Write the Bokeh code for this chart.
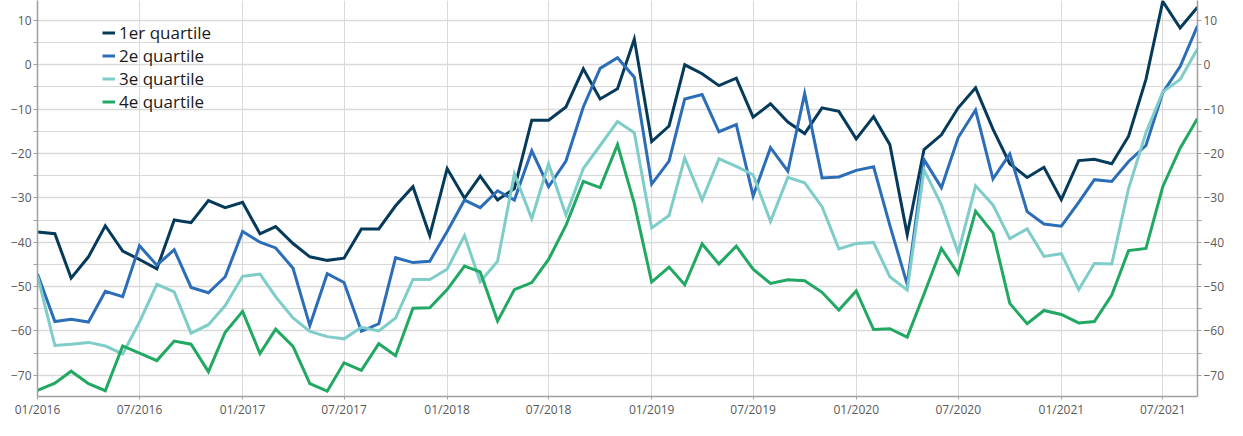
import pandas as pd
from bokeh.plotting import figure
from bokeh.models import (LinearAxis, FixedTicker, MonthsTicker, DatetimeTickFormatter,
                          Legend, LegendItem, Range1d)
from bokeh.embed import file_html
from bokeh.resources import INLINE

# ---------------- data ----------------
months = pd.date_range("2016-01-01", periods=69, freq="MS")

q1 = [-37.7, -38.1, -48.1, -43.3, -36.3, -42.0, -43.9, -46.0, -35.0, -35.6,
      -30.6, -32.2, -31.0, -38.1, -36.5, -40.3, -43.3, -44.1, -43.6, -37.0,
      -37.0, -31.8, -27.5, -38.5, -23.4, -30.1, -25.1, -30.5, -27.9, -12.5,
      -12.5, -9.5, -0.9, -7.7, -5.4, 5.8, -17.3, -13.8, 0.0, -2.0,
      -4.7, -3.0, -11.8, -8.8, -12.9, -15.5, -9.7, -10.5, -16.7, -11.7,
      -18.0, -38.3, -19.1, -15.8, -9.7, -5.2, -14.5, -22.3, -25.4, -23.1,
      -30.4, -21.6, -21.3, -22.3, -16.1, -3.3, 14.3, 8.3, 13.0]

q2 = [-47.2, -57.9, -57.4, -58.0, -51.1, -52.3, -40.8, -45.2, -41.7, -50.2,
      -51.4, -47.8, -37.6, -40.0, -41.3, -45.9, -58.8, -47.1, -49.1, -60.1,
      -58.4, -43.5, -44.6, -44.3, -37.6, -30.5, -32.2, -28.4, -30.5, -19.4,
      -27.5, -21.7, -9.5, -0.8, 1.6, -2.8, -26.9, -21.7, -7.7, -6.7,
      -15.1, -13.5, -29.6, -18.7, -24.0, -6.5, -25.5, -25.3, -23.8, -23.0,
      -36.2, -49.5, -21.4, -27.7, -16.4, -10.2, -25.7, -20.1, -33.1, -35.9,
      -36.4, -31.0, -25.9, -26.3, -21.8, -18.2, -6.3, -0.4, 8.8]

q3 = [-47.6, -63.3, -63.0, -62.6, -63.4, -65.2, -58.0, -49.5, -51.2, -60.5,
      -58.6, -54.3, -47.7, -47.2, -52.3, -57.1, -60.1, -61.3, -61.8, -59.2,
      -60.0, -57.1, -48.4, -48.4, -46.1, -38.5, -48.9, -44.3, -24.6, -34.7,
      -22.3, -33.9, -23.4, -18.2, -12.8, -15.3, -36.8, -34.0, -21.0, -30.5,
      -21.2, -22.9, -24.8, -35.3, -25.4, -26.6, -32.0, -41.5, -40.3, -40.1,
      -47.8, -50.8, -23.7, -31.6, -42.4, -27.3, -31.6, -39.2, -37.0, -43.2,
      -42.6, -50.7, -44.8, -44.9, -27.9, -15.3, -6.1, -3.3, 3.6]

q4 = [-73.4, -71.8, -69.1, -71.9, -73.5, -63.4, -65.0, -66.7, -62.3, -63.0,
      -69.2, -60.3, -55.6, -65.1, -59.6, -63.5, -71.9, -73.6, -67.2, -68.9,
      -62.9, -65.6, -54.9, -54.8, -50.7, -45.4, -46.7, -57.8, -50.7, -49.1,
      -43.9, -36.2, -26.3, -27.7, -18.0, -31.3, -49.0, -45.6, -49.6, -40.4,
      -44.9, -40.9, -46.1, -49.3, -48.5, -48.7, -51.3, -55.3, -51.0, -59.7,
      -59.5, -61.4, -51.7, -41.4, -47.1, -33.0, -37.9, -53.8, -58.4, -55.4,
      -56.3, -58.2, -57.9, -51.9, -41.9, -41.4, -27.5, -18.8, -12.1]

series_names = ["1er quartile", "2e quartile", "3e quartile", "4e quartile"]
series_values = [q1, q2, q3, q4]
series_colors = ["#063a5b", "#2c6db8", "#7fcdc9", "#21a862"]

y_ticks = [-70, -60, -50, -40, -30, -20, -10, 0, 10]
y_tick_labels = ["\u221270", "\u221260", "\u221250", "\u221240", "\u221230",
                 "\u221220", "\u221210", "0", "10"]
y_minor_ticks = [-75, -65, -55, -45, -35, -25, -15, -5, 5]

# ---------------- figure ----------------
FONT = "Open Sans"
GRID = "#d9d9d9"
AXIS = "#a0a0a0"
LABEL = "#595959"

W, H = 1227, 420
p = figure(width=W, height=H, x_axis_type="datetime",
           x_range=Range1d(months[0], months[-1]),
           y_range=Range1d(-74.8, 14.5),
           output_backend="svg", toolbar_location=None,
           min_border_top=0, min_border_left=37, min_border_right=26,
           min_border_bottom=18)
p.outline_line_color = None
p.background_fill_color = "white"

yt = FixedTicker(ticks=y_ticks, minor_ticks=y_minor_ticks)
overrides = {t: l for t, l in zip(y_ticks, y_tick_labels)}

p.yaxis.ticker = yt
p.yaxis.major_label_overrides = overrides
right = LinearAxis(ticker=yt, major_label_overrides=overrides)
p.add_layout(right, "right")

for ax in p.yaxis:
    ax.axis_line_color = AXIS
    ax.axis_line_width = 1.5
    ax.major_tick_line_color = AXIS
    ax.minor_tick_line_color = AXIS
    ax.major_tick_in = 0
    ax.major_tick_out = 4
    ax.minor_tick_in = 0
    ax.minor_tick_out = 4
    ax.major_label_standoff = 2
    ax.major_label_text_font = FONT
    ax.major_label_text_font_size = "12px"
    ax.major_label_text_color = LABEL

xa = p.xaxis[0]
xa.ticker = MonthsTicker(months=[0, 6])
xa.formatter = DatetimeTickFormatter(months="%m/%Y", years="%m/%Y", days="%m/%Y")
xa.axis_line_color = AXIS
xa.axis_line_width = 1.5
xa.major_tick_line_color = AXIS
xa.major_tick_in = 0
xa.major_tick_out = 3
xa.minor_tick_line_color = None
xa.major_label_standoff = 1
xa.major_label_text_font = FONT
xa.major_label_text_font_size = "12px"
xa.major_label_text_color = LABEL

p.xgrid.ticker = xa.ticker
p.xgrid.grid_line_color = GRID
p.xgrid.grid_line_width = 1
p.ygrid.ticker = yt
p.ygrid.grid_line_color = GRID
p.ygrid.grid_line_width = 1.3
p.ygrid.minor_grid_line_color = GRID
p.ygrid.minor_grid_line_width = 1

items = []
for name, vals, col in zip(series_names, series_values, series_colors):
    r = p.line(months, vals, line_color=col, line_width=3, line_join="miter")
    items.append(LegendItem(label=name, renderers=[r]))

legend = Legend(items=items, location=(65, 283))
legend.border_line_color = None
legend.background_fill_alpha = 0
legend.padding = 0
legend.margin = 0
legend.spacing = 0
legend.glyph_width = 13
legend.glyph_height = 23
legend.label_height = 23
legend.label_standoff = 4
legend.label_text_font = FONT
legend.label_text_font_size = "17px"
legend.label_text_color = "#1a1a1a"
p.add_layout(legend)

open("out.html", "w").write(file_html(p, INLINE))
